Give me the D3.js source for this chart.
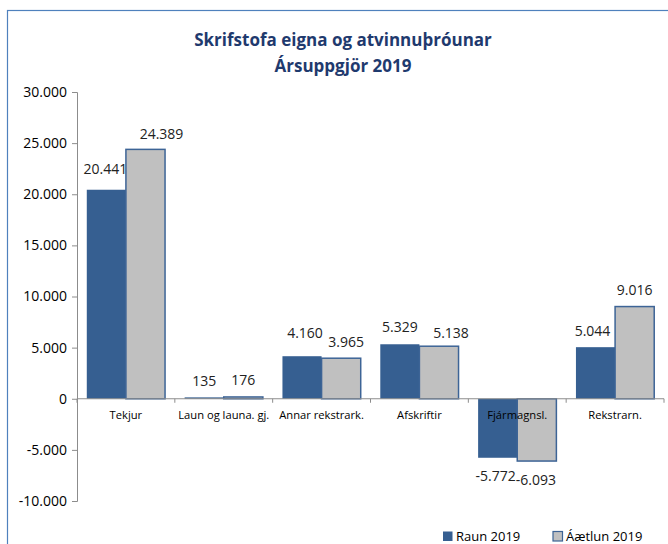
<!DOCTYPE html>
<html>
<head>
<meta charset="utf-8">
<script src="https://cdn.jsdelivr.net/npm/d3@7"></script>
<style>
  html, body { margin: 0; padding: 0; background: #fff; }
  svg { display: block; font-family: "Open Sans", "Noto Sans", sans-serif; }
</style>
</head>
<body>
<svg id="chart" width="668" height="544"></svg>
<script>
// Categories and series values (þús. kr.)
const categories = ["Tekjur", "Laun og launa. gj.", "Annar rekstrark.", "Afskriftir", "Fjármagnsl.", "Rekstrarn."];
const raun2019 = [20441, 135, 4160, 5329, -5772, 5044];
const aaetlun2019 = [24389, 176, 3965, 5138, -6093, 9016];
const seriesNames = ["Raun 2019", "Áætlun 2019"];
const yTicks = [-10000, -5000, 0, 5000, 10000, 15000, 20000, 25000, 30000];
const titleLines = ["Skrifstofa eigna og atvinnuþróunar", "Ársuppgjör 2019"];

// Hand-placed label nudges [dx, dy] per series, per category
const labelNudgeRaun = [[-1, -4], [0, 0], [3, -7], [0, -1], [-2, 0], [-3, 0]];
const labelNudgeAaetlun = [[16, 1], [0, 0], [5, 0], [12, 3], [-1, 0], [0, 0]];

const svg = d3.select("#chart");

// Outer chart frame
svg.append("rect")
  .attr("x", 7.5).attr("y", 10.5)
  .attr("width", 700).attr("height", 600)
  .attr("fill", "#fff").attr("stroke", "#4f81bd").attr("stroke-width", 1.2);

// Title
const title = svg.append("text")
  .attr("text-anchor", "middle")
  .attr("fill", "#1f3a6e")
  .attr("font-weight", "bold")
  .attr("font-size", 17);
titleLines.forEach((t, i) => {
  title.append("tspan").attr("x", 343).attr("y", 46 + i * 26).text(t);
});

const plot = { left: 77, right: 664, top: 92, bottom: 501 };

const y = d3.scaleLinear().domain([-10000, 30000]).range([plot.bottom, plot.top]);
const x0 = d3.scaleBand().domain(categories).range([plot.left, plot.right]).paddingInner(0.2).paddingOuter(0.1);
const x1 = d3.scaleBand().domain(seriesNames).range([0, x0.bandwidth()]);

// Icelandic number style: dot as thousands separator, plain hyphen as minus
const locale = d3.formatLocale({ decimal: ",", thousands: ".", grouping: [3], currency: ["", " kr."], minus: "-" });
const fmt = locale.format(",");

// Y axis
const yAxis = d3.axisLeft(y).tickValues(yTicks).tickSize(5).tickFormat(fmt);
const gy = svg.append("g").attr("transform", `translate(${plot.left},0)`).call(yAxis);
gy.select(".domain").attr("stroke", "#8c8c8c");
gy.selectAll(".tick line").attr("stroke", "#8c8c8c");
gy.selectAll(".tick text").attr("font-size", 14).attr("fill", "#000").attr("x", -10)
  .attr("font-family", "'Open Sans', sans-serif");

// Bars
const nudges = [labelNudgeRaun, labelNudgeAaetlun];
const data = categories.map((c, i) => ({
  cat: c,
  vals: [raun2019[i], aaetlun2019[i]].map((v, j) => ({ v, j, nudge: nudges[j][i] }))
}));
const fills = ["#365f91", "#c0c0c0"];

const groups = svg.append("g").selectAll("g").data(data).join("g")
  .attr("transform", d => `translate(${x0(d.cat)},0)`);

groups.selectAll("rect").data(d => d.vals).join("rect")
  .attr("x", d => x1(seriesNames[d.j]))
  .attr("y", d => y(Math.max(0, d.v)))
  .attr("width", x1.bandwidth())
  .attr("height", d => Math.abs(y(d.v) - y(0)))
  .attr("fill", d => fills[d.j])
  .attr("stroke", d => d.j === 1 ? "#3d6496" : "none")
  .attr("stroke-width", 1.5);

// X axis along zero line with ticks between categories
const bounds = d3.range(categories.length + 1).map(i => plot.left + i * x0.step());
svg.append("line")
  .attr("x1", plot.left).attr("x2", plot.right)
  .attr("y1", y(0)).attr("y2", y(0))
  .attr("stroke", "#8c8c8c");
svg.append("g").selectAll("line").data(bounds).join("line")
  .attr("x1", d => d).attr("x2", d => d)
  .attr("y1", y(0)).attr("y2", y(0) + 4)
  .attr("stroke", "#8c8c8c");

// Category labels
svg.append("g").selectAll("text").data(categories).join("text")
  .attr("x", d => x0(d) + x0.bandwidth() / 2)
  .attr("y", y(0) + 20)
  .attr("text-anchor", "middle")
  .attr("font-size", 11.2)
  .attr("fill", "#000")
  .text(d => d);

// Value labels
groups.selectAll("text.val").data(d => d.vals).join("text")
  .attr("class", "val")
  .attr("x", d => x1(seriesNames[d.j]) + x1.bandwidth() / 2 + d.nudge[0])
  .attr("y", d => (d.v >= 0 ? y(d.v) - 11.5 : y(d.v) + 23.5) + d.nudge[1])
  .attr("text-anchor", "middle")
  .attr("font-size", 14)
  .attr("fill", "#222")
  .text(d => fmt(d.v));

// Legend
const legend = svg.append("g");
const legendX = [443, 553];
seriesNames.forEach((s, i) => {
  legend.append("rect")
    .attr("x", legendX[i]).attr("y", 531.5)
    .attr("width", 9.5).attr("height", 9.5)
    .attr("fill", fills[i])
    .attr("stroke", i === 1 ? "#3d6496" : "none")
    .attr("stroke-width", 1.2);
  legend.append("text")
    .attr("x", legendX[i] + 13).attr("y", 541)
    .attr("font-size", 13)
    .attr("fill", "#000")
    .text(s);
});
</script>
</body>
</html>
